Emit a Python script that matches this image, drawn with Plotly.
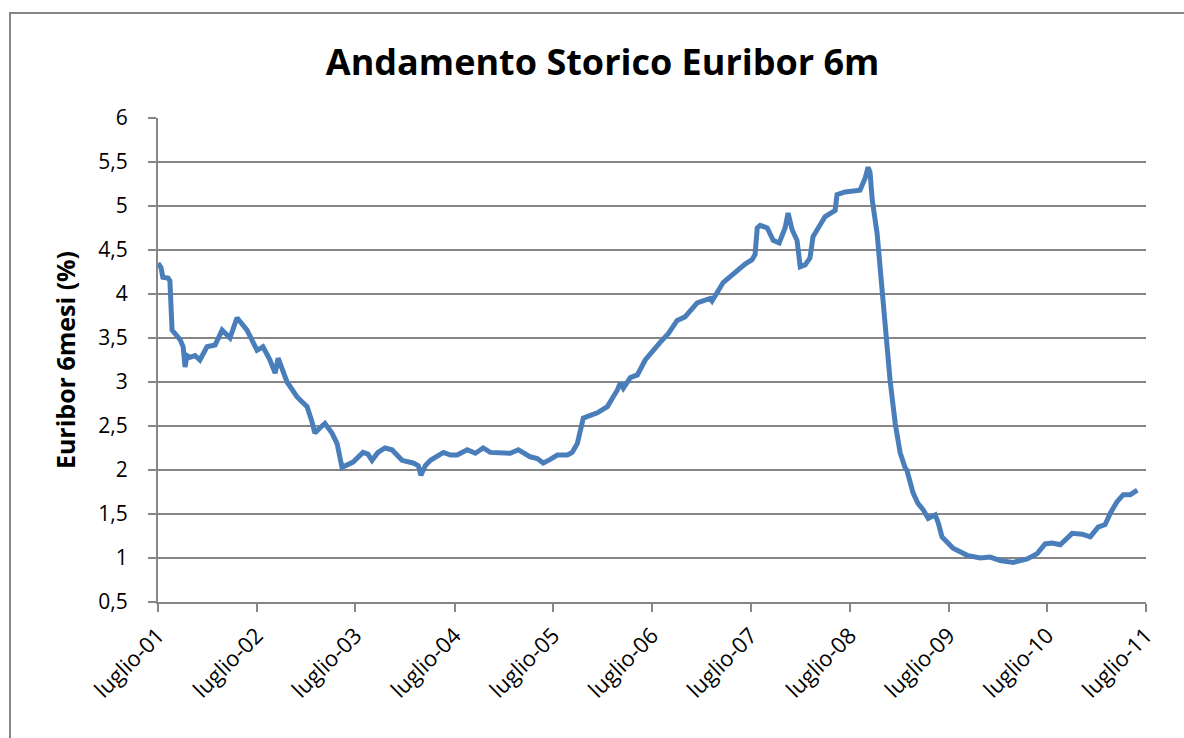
import plotly.graph_objects as go

# Euribor 6m values
dates = [
    "2001-07-01", "2001-07-12", "2001-07-19", "2001-08-07", "2001-08-14", "2001-08-22",
    "2001-09-02", "2001-09-21", "2001-10-02", "2001-10-09", "2001-10-16", "2001-10-27",
    "2001-11-15", "2001-12-03", "2001-12-29", "2002-01-28", "2002-02-23", "2002-03-24",
    "2002-04-19", "2002-05-26", "2002-07-02", "2002-07-24", "2002-08-19", "2002-09-07",
    "2002-09-18", "2002-10-06", "2002-10-21", "2002-11-27", "2003-01-03", "2003-01-21",
    "2003-02-01", "2003-02-20", "2003-03-10", "2003-04-05", "2003-04-24", "2003-05-12",
    "2003-06-22", "2003-07-29", "2003-08-16", "2003-08-31", "2003-09-22", "2003-10-18",
    "2003-11-13", "2003-12-20", "2004-01-30", "2004-02-18", "2004-02-28", "2004-03-15",
    "2004-04-03", "2004-05-21", "2004-06-16", "2004-07-11", "2004-08-17", "2004-09-16",
    "2004-10-15", "2004-11-10", "2004-12-06", "2005-01-23", "2005-02-22", "2005-04-07",
    "2005-05-03", "2005-05-25", "2005-06-20", "2005-07-16", "2005-08-22", "2005-09-09",
    "2005-09-28", "2005-10-09", "2005-10-20", "2005-11-15", "2005-12-11", "2006-01-17",
    "2006-02-08", "2006-02-23", "2006-03-06", "2006-03-17", "2006-04-12", "2006-05-08",
    "2006-06-06", "2006-07-02", "2006-07-31", "2006-08-30", "2006-10-02", "2006-10-31",
    "2006-12-15", "2007-02-01", "2007-02-08", "2007-03-21", "2007-05-12", "2007-06-10",
    "2007-07-06", "2007-07-17", "2007-07-25", "2007-08-05", "2007-08-31", "2007-09-22",
    "2007-10-14", "2007-11-05", "2007-11-16", "2007-12-01", "2007-12-19", "2007-12-31",
    "2008-01-18", "2008-02-05", "2008-02-16", "2008-03-06", "2008-04-01", "2008-05-08",
    "2008-05-15", "2008-06-14", "2008-08-08", "2008-08-27", "2008-09-07", "2008-09-14",
    "2008-09-22", "2008-10-10", "2008-10-21", "2008-10-29", "2008-11-16", "2008-11-27",
    "2008-12-16", "2009-01-03", "2009-01-21", "2009-01-28", "2009-02-20", "2009-03-10",
    "2009-03-29", "2009-04-17", "2009-05-13", "2009-05-24", "2009-06-07", "2009-07-18",
    "2009-09-08", "2009-10-26", "2009-12-02", "2010-01-08", "2010-02-25", "2010-04-18",
    "2010-05-25", "2010-06-23", "2010-07-19", "2010-08-18", "2010-10-01", "2010-11-07",
    "2010-12-07", "2011-01-05", "2011-01-31", "2011-02-19", "2011-03-16", "2011-04-08",
    "2011-05-04", "2011-05-30",
]
euribor_6m = [
    4.35, 4.30, 4.19, 4.18, 4.15, 3.59,
    3.55, 3.48, 3.40, 3.17, 3.30, 3.28,
    3.30, 3.25, 3.40, 3.42, 3.59, 3.50,
    3.73, 3.59, 3.36, 3.40, 3.25, 3.10,
    3.27, 3.10, 3.00, 2.83, 2.72, 2.55,
    2.42, 2.48, 2.53, 2.42, 2.30, 2.03,
    2.09, 2.20, 2.18, 2.11, 2.20, 2.25,
    2.23, 2.11, 2.08, 2.05, 1.94, 2.05,
    2.11, 2.20, 2.17, 2.17, 2.23, 2.19,
    2.25, 2.20, 2.20, 2.19, 2.23, 2.15,
    2.13, 2.08, 2.12, 2.17, 2.17, 2.20,
    2.30, 2.45, 2.59, 2.62, 2.65, 2.72,
    2.82, 2.91, 2.99, 2.93, 3.05, 3.08,
    3.25, 3.35, 3.45, 3.55, 3.70, 3.74,
    3.90, 3.95, 3.92, 4.13, 4.27, 4.34,
    4.39, 4.45, 4.75, 4.78, 4.75, 4.61,
    4.58, 4.75, 4.92, 4.73, 4.61, 4.31,
    4.33, 4.41, 4.65, 4.75, 4.88, 4.95,
    5.13, 5.16, 5.18, 5.32, 5.44, 5.38,
    5.07, 4.69, 4.30, 4.01, 3.51, 3.02,
    2.53, 2.20, 2.03, 2.00, 1.74, 1.62,
    1.55, 1.45, 1.49, 1.40, 1.24, 1.11,
    1.03, 1.00, 1.01, 0.97, 0.95, 0.99,
    1.05, 1.16, 1.17, 1.15, 1.28, 1.27,
    1.24, 1.35, 1.38, 1.51, 1.64, 1.72,
    1.72, 1.77,
]

x_tick_dates = ["2001-07-01", "2002-07-01", "2003-07-01", "2004-07-01", "2005-07-01",
                "2006-07-01", "2007-07-01", "2008-07-01", "2009-07-01", "2010-07-01",
                "2011-07-01"]
x_tick_labels = ["luglio-01", "luglio-02", "luglio-03", "luglio-04", "luglio-05",
                 "luglio-06", "luglio-07", "luglio-08", "luglio-09", "luglio-10",
                 "luglio-11"]
y_tick_vals = [0.5, 1, 1.5, 2, 2.5, 3, 3.5, 4, 4.5, 5, 5.5, 6]
y_tick_labels = ["0,5", "1", "1,5", "2", "2,5", "3", "3,5", "4", "4,5", "5", "5,5", "6"]

FONT = "Open Sans"
GRID = "#868686"

fig = go.Figure()
fig.add_trace(go.Scatter(
    x=dates, y=euribor_6m, mode="lines",
    line=dict(color="#4A7EBB", width=5, shape="linear"),
    showlegend=False, hoverinfo="x+y",
))

fig.update_layout(
    width=1184, height=738,
    paper_bgcolor="white", plot_bgcolor="white",
    margin=dict(l=158, r=38, t=118, b=136),
    font=dict(family=FONT, color="black"),
    title=dict(text="<b>Andamento Storico Euribor 6m</b>", x=0.509, xanchor="center",
               y=0.916, yanchor="middle", font=dict(family=FONT, size=36, color="black")),
    xaxis=dict(
        type="date", range=["2001-07-01", "2011-07-01"],
        tickmode="array", tickvals=x_tick_dates, ticktext=x_tick_labels,
        tickangle=-45, tickfont=dict(size=22, family=FONT, color="black"),
        ticklabelstandoff=2,
        showgrid=False, showline=True, linecolor=GRID, linewidth=2,
        ticks="outside", ticklen=8, tickcolor=GRID, tickwidth=2,
        zeroline=False, fixedrange=True,
    ),
    yaxis=dict(
        range=[0.5, 6], tickmode="array", tickvals=y_tick_vals, ticktext=y_tick_labels,
        tickfont=dict(size=21, family=FONT, color="black"),
        ticklabelstandoff=16,
        showgrid=True, gridcolor=GRID, gridwidth=2,
        showline=True, linecolor=GRID, linewidth=2,
        ticks="outside", ticklen=8, tickcolor=GRID, tickwidth=2,
        zeroline=False, fixedrange=True,
        title=dict(text="<b>Euribor 6mesi (%)</b>", font=dict(size=25, family=FONT, color="black"),
                   standoff=16),
    ),
    shapes=[dict(type="rect", xref="paper", yref="paper",
                 x0=-0.1498, x1=1.2, y0=-0.5, y1=1.2169,
                 line=dict(color="#868686", width=2), fillcolor="rgba(0,0,0,0)", layer="below")],
)

fig.write_html("out.html", config={"displayModeBar": False},
               post_script="document.body.style.margin='0';")
